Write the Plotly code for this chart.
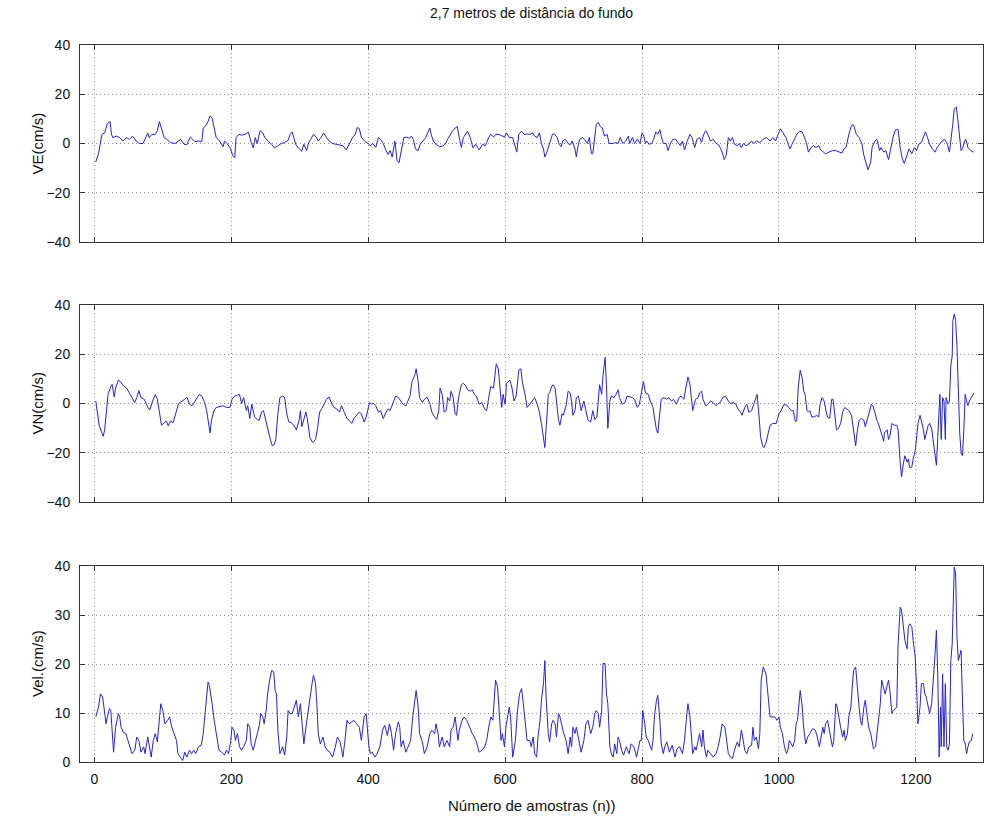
import plotly.graph_objects as go

# ---- velocity components, sampled by index n ----
ve_n = [2,6,11,15,19,23,25,27,32,37,42,47,51,56,61,66,71,75,78,80,84,89,92,95,97,102,106,111,118,126,131,135,140,143,147,153,157,159,163,166,169,172,175,178,183,188,190,194,198,202,205,207,211,215,220,225,229,232,235,238,242,246,249,254,259,263,268,273,278,283,286,289,294,298,303,
        306,310,313,316,320,324,327,331,335,339,343,348,353,358,363,368,372,377,381,384,387,390,395,400,403,407,411,415,418,422,426,429,432,435,439,442,445,448,452,456,460,463,466,469,473,476,480,484,487,490,492,495,499,504,509,513,516,520,523,527,530,533,536,539,542,545,549,553,557,562,567,571,576,579,583,586,591,595,599,602,606,611,615,617,620,624,628,632,
        636,640,643,647,650,653,656,658,661,663,666,669,672,676,679,682,684,688,692,695,698,702,704,706,709,713,716,720,723,726,728,731,733,736,739,742,745,749,752,757,762,765,768,772,776,780,782,786,789,793,797,800,802,805,807,810,814,817,820,823,826,828,831,835,838,841,845,849,853,856,859,862,866,870,873,877,880,884,887,890,893,896,900,904,908,911,914,917,920,923,926,929,932,935,939,942,945,948,952,956,960,963,
        967,972,977,982,987,991,995,999,1002,1006,1010,1013,1016,1019,1023,1026,1030,1034,1037,1040,1043,1047,1050,1054,1058,1061,1065,1068,1073,1078,1083,1088,1092,1095,1098,1102,1106,1109,1113,1117,1121,1124,1127,1130,1134,1136,1140,1143,1147,1149,1153,1156,1160,1164,1167,1170,1174,1177,1180,1183,1187,1190,1194,1198,1201,1204,1208,1212,1214,1217,1220,1224,1228,1231,1235,1238,1242,1246,1249,1251,1254,1256,1259,1261,1264,1266,1268,1271,1273,1276,1280,1284]
ve = [-7.5,-4.2,3.7,4.3,8.2,8.9,3.7,2.4,3,2.4,1,2.4,1.7,3,1,0,0,2.4,4.3,2.4,3.7,3.7,5.2,8.9,6.9,2.4,1.7,0.4,0,1.7,-0.3,-0.5,2.6,1.7,0.8,1,0.8,6.3,7.3,8.9,11.2,10.2,6.3,2.4,1,-1.3,1,0,-1.6,-4.8,-5.8,2.4,3.7,3.4,3.7,4.6,0.4,-1.8,2.4,0,5.2,4.3,2.4,0.8,-0.3,-1.8,-0.9,0,0.4,1.3,3.7,4.7,-0.3,-1.8,-3.1,
      -0.3,-2.9,0.4,1.7,3.7,2.6,1,2.4,4.3,2.4,1,0,-0.3,-0.3,-0.9,-2.6,-0.3,2.4,3.7,6.5,6,2.6,0.8,0,-0.9,0,-1.6,2.4,1.7,0,-2.9,-4.4,-2.9,-5.5,1,-6.8,-7.8,-2.9,2.4,2.6,2.1,3,1.7,-2.2,-2.9,-0.3,1,2.4,4.3,6.3,3.7,1,-0.3,-1.3,-1,0,1.7,3.7,5,6.3,6.9,2.4,-1.6,2.4,3.7,5,2.4,-1.8,-0.3,-2.6,-0.3,-0.9,2.4,3.7,2.6,3.7,3.7,3,2.6,4.3,2.4,2.4,-1.6,-3.5,3.7,5,3.7,3.9,
      3.7,4.3,3,2.4,4.3,0,-2.2,-5.5,-3.5,-1.6,1,3.7,3.9,2.4,-0.3,-1.3,1,1.7,0,-0.5,1,-2.2,-5.5,-1.6,1.7,2.4,1.7,0,2.4,-4.2,-4.2,3.7,7.6,8.6,6.9,6.3,3,3.7,0,0,0.4,0,2.4,0,1,3,0,2.4,0,1.7,0,4.3,3.7,0,1,-0.3,0,1.7,4.7,3.7,5.6,3,0,0,-2.9,-0.3,1.7,1.7,0,-0.9,1,-2.6,1,3.7,2.4,-1.6,1.7,2.4,0.4,3.7,5.2,3.7,1,1.7,0,-0.3,-1.6,-3.5,-6.5,-4.8,2.4,1,2.4,-0.3,-0.9,0,-1.6,0,-0.9,-0.3,1,0,
      1,0.4,1.7,2.4,1,2.4,1,3.7,6,4.3,2.4,0,-2.2,-0.3,2.4,3.7,5,4.7,2.6,0.4,-3.5,-1.6,-0.9,-1.6,-0.9,-2.6,-3.5,-4.2,-3.5,-2.9,-2.9,-3.5,-3.9,-2.2,-1.6,3.7,7.3,7.6,3.7,2.4,0,-4.8,-8.1,-10.7,-7.5,-1.6,1,1.7,-2.9,-1.6,-3.5,-2.9,-6.5,-0.3,3,5.6,5.6,-1.6,-6.1,-8.1,-4.8,-2.2,-4.2,-1.6,-2.9,-0.3,0.4,3.7,4.7,2.4,-0.3,-2.2,-3.5,-1.6,-0.3,1,1.7,-0.3,-3.5,0.4,8.2,14.1,14.8,10.2,1,-2.9,-2.2,1,1.7,-1.6,-2.9,-3.5]

vn_n = [2,4,7,11,13,15,18,20,24,26,29,31,35,38,42,47,51,55,59,62,65,68,73,78,81,85,89,92,96,98,102,105,108,111,115,119,123,128,132,135,139,143,146,150,153,157,161,164,167,169,171,175,178,183,188,193,198,201,205,209,212,215,218,222,224,227,230,234,238,241,244,247,251,254,257,260,263,265,268,271,275,278,281,284,288,291,295,299,
        301,303,306,309,311,313,315,319,323,326,329,332,336,339,343,347,350,354,358,361,365,369,372,376,379,383,387,390,394,397,400,402,405,408,411,415,418,422,426,429,432,436,440,444,447,451,455,458,461,464,468,470,473,475,479,482,486,490,493,497,500,503,505,508,511,514,516,519,521,524,527,529,532,536,539,542,545,549,552,555,558,562,566,570,573,576,579,583,585,587,590,592,595,597,600,602,605,607,610,613,616,618,620,623,625,629,632,
        636,640,643,647,650,653,656,658,660,663,665,668,670,673,675,678,680,683,685,689,692,695,697,699,702,704,707,709,711,715,718,721,725,728,731,734,738,741,743,746,748,750,753,755,759,762,765,767,771,775,778,782,786,789,793,796,799,802,805,809,812,816,818,821,823,826,828,832,836,839,843,846,850,854,857,861,864,867,870,872,874,878,882,884,887,889,893,896,900,904,908,911,914,918,922,926,929,933,937,940,944,946,950,953,956,960,963,966,
        968,971,973,976,978,981,984,987,991,996,1000,1003,1007,1011,1014,1018,1021,1024,1026,1028,1031,1034,1036,1038,1041,1043,1045,1048,1051,1055,1058,1060,1063,1066,1069,1071,1074,1077,1079,1082,1084,1087,1090,1093,1096,1099,1102,1106,1109,1112,1114,1117,1120,1124,1126,1129,1132,1135,1137,1140,1143,1146,1149,1153,1154,1158,1160,1162,1165,1168,1172,1174,1177,1179,1182,1184,1187,1189,1191,1194,1196,1199,1201,1203,1206,1208,1211,1213,1215,1218,1220,1223,1225,1227,1230,1232,1234,1235,1237,1239,1241,1243,1244,1247,1249,1251,1253,1254,1256,1258,1260,1262,1264,1266,1268,1270,1272,1274,1276,1278,1281,1283,1285]
vn = [1,-3.5,-8.8,-12,-13.3,-10.7,-1.6,3.7,6.9,7.8,2.6,6.3,9.5,8.9,7.3,6.3,4.3,2.4,0.4,2.4,5.2,2.4,1.7,-1.6,-2.6,1,3.7,1.7,-4.8,-8.8,-7.8,-7.1,-9.1,-7.1,-7.8,-4.2,0,1,1.7,2.6,-0.3,-0.9,0.4,2.4,3.7,3,0.4,-2.9,-9.4,-12,-6.8,-2.6,-1.6,-1.3,-0.9,-1.6,-1.6,1.7,3,3.4,3.7,0,2.4,-2.9,-0.9,-6.1,-0.3,-5.5,-6.5,-6.8,-3.5,-2.9,-8.1,-12,-14.6,-17.2,-16.6,-14.6,-4.2,2.4,3,2.4,-4.2,-7.5,-7.8,-8.8,-10.7,-6.8,
      -2.9,-9.4,-6.8,-3.5,-6.1,-10.1,-14,-15.9,-14.6,-10.1,-3.5,-2.2,0.4,1.7,2.6,-0.3,-1.6,-2.2,-3.5,-0.9,-3.5,-6.1,-6.8,-8.1,-6.1,-4.8,-3.5,-4.2,-7.5,-5.5,-1.6,0.4,-0.3,0,-0.9,-3.5,-2.9,-6.1,-3.5,-2.2,-2.9,0,3,2.4,1,-0.3,-0.9,1,3,8.9,11.5,14.1,8.9,2.4,0.4,1.7,2.6,0,-3.5,-5.5,-6.5,-2.9,6.3,3.7,-3.5,-2.9,2.4,1,5,2.6,-4.2,-4.8,2.4,7.6,8.2,7.3,5.6,5,5.6,3.7,3,-0.3,0.4,-2.2,-2.9,2.4,6.9,6.3,12.8,16.1,14.1,8.9,-1.6,3.7,-0.3,8.2,8.9,9.5,6.3,1,3,7.6,13.5,14.1,8.9,3.7,-1.6,
      -0.3,1,2.4,-0.3,-3.5,-8.1,-13.3,-17.9,-9.4,3.7,4.3,6.9,7.6,6.3,1,-6.8,-8.8,-4.2,-4.8,-0.9,5,4.3,1,-4.8,-2.9,2.4,3,-0.3,-2.9,1,-2.9,-6.8,-7.5,-2.9,-6.5,-5.5,7.6,3.7,11.5,18.7,7.6,-10.1,1,3,2.4,3.7,5.6,2.4,-0.3,0.4,3,2.6,2.4,1.7,-1.6,-0.3,5,8.9,4.3,3.7,1,-1.6,-5.5,-10.7,-12,-1.6,1.7,2.4,1.7,2.4,1,1.7,-0.3,2.4,3,1.7,6.3,10.8,7.6,3,-2.9,1.7,2.4,4.3,5,1.7,-0.9,-0.3,1,0.4,-0.9,0,0.4,2.4,3,1,0,0.4,-0.3,-2.2,-3.5,-4.8,-1.6,-0.3,-3.5,-2.9,-0.3,2.4,
      3.7,-5.5,-13.3,-17.2,-17.9,-16,-12,-8.8,-8.1,-8.1,-4.2,-2.9,-0.5,-0.5,-1.6,-2.9,-2.9,-7.5,-6.8,6.3,13.5,10.2,5,3.7,-2.9,-3.5,-2.9,-5.5,-5.5,-4.8,-5.5,-0.3,2.4,1,-3.5,-5.5,-6.1,1.7,1.7,-6.8,-10.7,-10.1,-8.1,-3.5,-1.6,-2.2,-2.9,-4.8,-10.7,-17.2,-12,-6.8,-6.1,-6.8,-9.4,-6.8,-3.5,-0.3,-0.9,-3.5,-6.8,-8.8,-11.4,-15.3,-12,-10.7,-14.6,-13.3,-8.1,-8.8,-8.8,-10.7,-23.8,-29.7,-23.8,-21.2,-23.8,-22.5,-26.1,-25.8,-22.5,-19.2,-14,-8.1,-4.8,-6.8,-10.7,-14.6,-12,-8.8,-8.1,-10.1,-14.6,-19.9,-25.1,-13.3,2.4,3.7,-14.6,2.4,1,-14.6,2.4,-0.3,1,15.4,19.3,33.7,36.3,33.7,23.3,2.4,-12,-19.9,-21.2,-10.7,3.7,1,-0.9,1,2.4,3.7,4.3]

vel_n = [2,6,9,12,14,17,19,22,24,26,28,31,35,37,39,42,46,49,52,55,59,62,65,68,72,74,78,80,83,86,89,92,95,97,100,103,107,110,113,116,120,122,126,129,132,135,139,142,145,148,152,156,159,162,166,168,170,172,175,179,182,186,190,193,196,199,201,204,206,209,212,215,218,222,224,227,229,232,235,238,241,243,246,248,251,253,256,259,262,264,266,268,271,275,278,281,283,286,289,292,295,298,
         301,303,306,309,311,314,318,320,323,325,327,330,334,337,340,344,348,352,355,359,363,366,369,372,376,379,383,387,390,394,397,399,401,403,406,410,413,417,421,424,428,431,434,437,440,444,446,448,451,455,458,462,465,468,470,473,475,479,482,486,490,493,497,499,502,504,508,511,515,519,521,524,527,531,533,537,540,544,548,552,555,558,562,566,570,573,576,579,582,584,586,589,591,594,596,599,601,603,606,608,611,615,618,621,624,626,629,632,
         636,638,641,643,646,648,651,653,656,658,660,663,665,668,670,673,675,678,680,683,685,689,692,695,697,699,702,704,708,711,715,718,721,725,728,731,733,736,738,741,743,746,748,750,753,755,758,760,763,765,767,770,773,777,781,784,788,792,794,797,799,801,804,806,809,811,814,816,818,821,823,826,828,831,833,836,840,844,848,851,855,859,862,865,867,870,872,874,877,879,882,884,887,889,891,894,896,900,904,908,911,914,917,921,923,926,929,932,935,939,942,945,947,950,953,956,960,962,964,
         967,970,972,974,977,981,984,987,990,994,997,1000,1002,1005,1008,1011,1013,1015,1018,1020,1023,1025,1027,1030,1031,1034,1036,1039,1042,1045,1049,1053,1056,1059,1061,1064,1066,1068,1071,1073,1076,1078,1080,1083,1085,1088,1090,1093,1095,1097,1100,1102,1105,1107,1109,1112,1114,1117,1119,1121,1124,1126,1129,1131,1134,1136,1138,1141,1143,1146,1148,1150,1153,1155,1158,1160,1162,1165,1167,1170,1172,1174,1177,1179,1182,1184,1187,1189,1191,1194,1196,1199,1201,1203,1206,1208,1211,1213,1215,1218,1220,1223,1225,1228,1230,1232,1234,1236,1237,1239,1241,1243,1245,1247,1249,1251,1253,1255,1256,1258,1260,1262,1264,1266,1268,1270,1272,1274,1276,1278,1281,1283]
vel = [9.2,11.2,13.9,13.3,11.2,7.8,9.2,10.9,10.5,5.1,2,7.1,9.9,9.2,7.1,6.1,5.8,4.4,3.1,1.7,2.4,5.1,4.4,2,3.1,1.7,5.1,3.1,1,4.4,5.8,4.1,9.2,11.9,10.5,7.8,8.5,9.2,7.1,6.1,4.4,1.7,1,0.3,2,1,2.4,1.7,2.4,1.7,3.1,3.4,5.8,10.5,16.3,15.6,13.9,11.9,8.5,4.4,2.4,2,1.4,2.4,1.7,4.1,7.1,6.5,4.4,5.8,3.1,2.4,3.1,4.4,7.8,7.1,3.7,2.4,4.4,5.8,7.5,9.9,9.2,7.8,10.5,13.9,16.7,18.7,18.4,14.6,13.9,6.5,1.7,3.1,1.4,5.1,10.5,9.9,9.9,11.2,12.6,9.2,
       11.9,8.5,3.7,7.1,9.2,12.6,16,17.7,16,11.9,5.8,3.7,5.1,3.1,2.4,2,1,3.1,5.1,4.1,1,4.4,8.5,7.8,8.2,8.5,7.8,7.1,4.4,9.2,9.9,5.8,3.1,1.7,2,1,1.7,3.1,6.5,7.5,5.4,7.8,5.8,2.4,5.8,8.2,7.1,3.1,4.4,2,3.1,4.4,9.2,12.6,14.6,11.2,5.8,4.1,1.7,3.1,5.8,6.5,5.8,7.8,5.8,3.1,5.1,3.1,4.4,3.1,6.5,7.1,9.2,4.4,6.5,8.5,9.2,8.5,7.1,5.8,5.1,4.1,2,2.4,3.1,4.4,7.1,9.2,8.5,12.6,16.7,15.3,11.2,4.4,5.8,3.1,7.1,9.2,11.2,9.2,1,4.4,10.5,13.9,15,12.6,7.8,4.4,
       4.4,3.1,5.1,1.7,1,5.1,8.5,12.6,16,20.7,12.6,5.8,4.1,7.8,8.5,7.8,5.1,9.9,9.2,7.1,6.1,4.4,1.7,5.1,3.1,7.1,5.8,7.1,4.4,2,4.4,7.8,8.5,5.8,7.1,9.9,10.5,9.9,7.1,10.5,20.1,20.1,13.9,11.9,3.1,1.7,1,3.7,1.7,5.1,4.4,2.4,1.4,3.1,1.7,3.7,3.1,1,2.4,4.4,4.4,10.5,7.8,5.1,4.4,3.7,2.4,4.4,9.2,12.6,13.6,8.5,3.7,1.7,3.1,4.1,2,3.4,1,2.7,3.1,1.7,4.4,9.2,11.9,9.2,4.4,1.7,3.1,2.4,4.4,5.8,3.1,6.5,3.1,1,2.4,1.7,1,1.7,3.1,5.1,7.8,7.1,4.4,1.7,1,0.7,2.4,4.1,3.1,6.5,5.1,2.4,1.7,3.1,3.4,7.1,4.4,
       5.1,2.7,5.8,16.7,19.4,18,13.9,9.2,9.2,9.2,8.5,9.2,7.1,5.8,3.1,1.7,2.4,4.4,3.7,3.1,4.4,7.8,8.5,12.6,14.6,11.2,7.1,3.7,5.1,5.8,6.8,6.5,5.1,3.1,4.8,7.1,5.8,7.8,8.5,7.1,5.1,3.1,4.4,11.9,11.2,8.5,7.1,5.1,6.5,4.4,5.8,9.2,11.2,15.3,18.7,19.4,15.3,11.2,8.5,7.5,11.2,12.6,9.2,7.1,5.8,4.1,2.7,3.1,5.8,8.5,11.9,16.7,15.3,13.9,15.6,16.7,14.6,9.9,10.5,10.9,11.2,24.1,31.6,31,27.6,24.8,23.1,27.6,28.2,27.6,24.8,21.4,15.3,7.8,11.2,16,16,13.9,13.3,11.2,9.9,11.9,15.3,22.1,26.9,17.3,1,11.2,3.1,18,3.1,16,3.1,2.4,3.7,20.7,24.1,32.3,39.8,38.4,25.5,20.7,22.1,22.8,12.6,4.4,3.7,1.7,3.1,4.1,4.4,5.8]

# ---- axis ticks and labels ----
x_ticks = [0, 200, 400, 600, 800, 1000, 1200]
comp_ticks = [-40, -20, 0, 20, 40]
vel_ticks = [0, 10, 20, 30, 40]
title_text = "2,7 metros de distância do fundo"
xlabel_text = "Número de amostras (n))"
ylabels = ["VE(cm/s)", "VN(cm/s)", "Vel.(cm/s)"]

LINE = "#2424d0"
FONT = "Liberation Sans, Arial, sans-serif"
W, H = 984, 816
ML, MR, MT, MB = 80, 1, 45, 54
plot_h = H - MT - MB

def dom(top_px, bot_px):
    return [(H - MB - bot_px) / plot_h, (H - MB - top_px) / plot_h]

domains = [dom(45, 242), dom(305, 502), dom(566, 762)]

fig = go.Figure()
series = [(ve_n, ve), (vn_n, vn), (vel_n, vel)]
for i, (xs, ys) in enumerate(series):
    sfx = "" if i == 0 else str(i + 1)
    fig.add_trace(go.Scatter(x=xs, y=ys, mode="lines",
                             line=dict(color=LINE, width=1),
                             xaxis="x" + sfx, yaxis="y" + sfx,
                             showlegend=False, hoverinfo="skip"))

axis_common = dict(showline=True, linecolor="#333333", linewidth=1,
                   mirror="ticks", ticks="inside", ticklen=5,
                   tickcolor="#333333", showgrid=True,
                   gridcolor="#8c8c8c", griddash="1px,3px", gridwidth=1,
                   zeroline=False,
                   tickfont=dict(family=FONT, size=14, color="#111111"))

layout = dict(width=W, height=H, margin=dict(l=ML, r=MR, t=MT, b=MB),
              paper_bgcolor="white", plot_bgcolor="white",
              showlegend=False)

for i in range(3):
    sfx = "" if i == 0 else str(i + 1)
    xa = dict(axis_common, domain=[0, 1], range=[-21, 1298],
              tickvals=x_ticks, anchor="y" + sfx,
              showticklabels=(i == 2), ticklabelstandoff=4)
    if i == 2:
        yt = vel_ticks
        yr = [0, 40]
    else:
        yt = comp_ticks
        yr = [-40, 40]
    ya = dict(axis_common, domain=domains[i], range=yr, tickvals=yt,
              anchor="x" + sfx, ticklabelstandoff=6)
    layout["xaxis" + sfx] = xa
    layout["yaxis" + sfx] = ya

fig.update_layout(**layout)

annotations = [
    dict(text=title_text, xref="paper", yref="paper", x=0.5,
         y=1 + (MT - 13) / plot_h, xanchor="center", yanchor="middle",
         showarrow=False, font=dict(family=FONT, size=14, color="#111111")),
    dict(text=xlabel_text, xref="paper", yref="paper", x=0.5,
         y=-(805 - (H - MB)) / plot_h, xanchor="center", yanchor="middle",
         showarrow=False, font=dict(family=FONT, size=15, color="#111111")),
]
centers = [143.5, 403.5, 664]
for lab, cy in zip(ylabels, centers):
    annotations.append(dict(text=lab, xref="paper", yref="paper",
                            x=-(ML - 37) / (W - ML - MR),
                            y=(H - MB - cy) / plot_h,
                            xanchor="center", yanchor="middle",
                            textangle=-90, showarrow=False,
                            font=dict(family=FONT, size=15, color="#111111")))
fig.update_layout(annotations=annotations)

fig.write_html("out.html")
